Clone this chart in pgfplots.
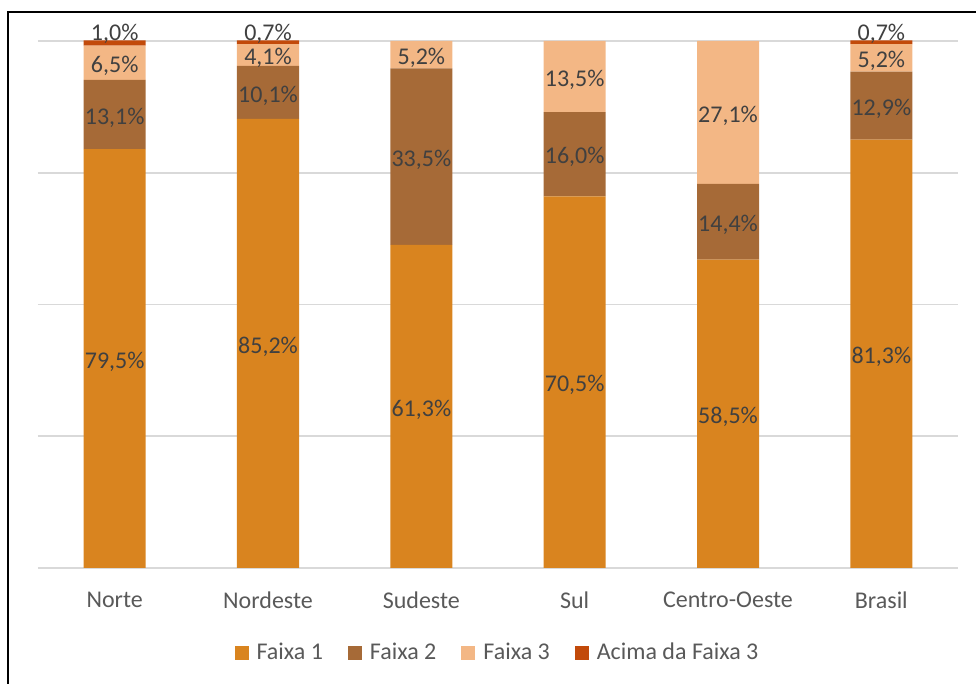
\documentclass[border=0pt]{standalone}
\usepackage{pgfplots}
\pgfplotsset{compat=1.18}
\usepackage{pgfplotstable}
\usepackage{fontspec}
\setmainfont{Carlito}
\definecolor{fx1}{HTML}{D9841F}
\definecolor{fx2}{HTML}{A66A37}
\definecolor{fx3}{HTML}{F3B785}
\definecolor{fx4}{HTML}{C24A0A}
\definecolor{lbl}{HTML}{404040}
\definecolor{tck}{HTML}{595959}
\definecolor{grd}{HTML}{D9D9D9}

\pgfplotstableread{
x f1 f2 f3 f4
0 79.5 13.1 6.5 1.0
1 85.2 10.1 4.1 0.7
2 61.3 33.5 5.2 0
3 70.5 16.0 13.5 0
4 58.5 14.4 27.1 0
5 81.3 12.9 5.2 0.7
}\data

\pgfplotsset{
  base/.style={
    width=460pt, height=263.5pt, scale only axis,
    at={(0,0)}, anchor=south west,
    xmin=-0.5, xmax=5.5, ymin=0, ymax=100,
    clip=false,
  },
  sq/.style={legend image code/.code={\fill[##1] (0pt,-3.5pt) rectangle (7pt,3.5pt);}},
  lab/.style={only marks, mark=none, point meta=explicit,
    nodes near coords={\pgfmathprintnumber[fixed,fixed zerofill,precision=1,use comma]{\pgfplotspointmeta}\%},
    every node near coord/.append style={anchor=center, yshift=-1.5pt, text=lbl, font=\fontsize{12}{14}\selectfont}},
}

\begin{document}
\begin{tikzpicture}
\useasboundingbox (-19pt,-58pt) rectangle (469pt,284pt);
\draw[line width=0.8pt] (-15pt,-70pt) -- (-15pt,278pt) -- (480pt,278pt);
\begin{axis}[base,
  ybar stacked, bar width=31pt,
  axis line style={draw=none},
  major tick length=0pt,
  xtick={0,1,2,3,4,5},
  xticklabels={Norte,Nordeste,Sudeste,Sul,Centro-Oeste,Brasil},
  xticklabel style={font=\fontsize{12}{14}\selectfont, text=tck, yshift=-8.5pt},
  ytick={0,25,50,75,100}, yticklabels={},
  ymajorgrids, grid style={grd, line width=0.8pt},
  legend style={at={(0.5,-0.161)}, anchor=center, draw=none, fill=none,
    legend columns=4, font=\fontsize{12}{14}\selectfont, text=tck,
    nodes={inner sep=1.5pt},
    /tikz/every odd column/.append style={column sep=2.5pt},
    /tikz/every even column/.append style={column sep=11pt}},
]
\addplot[fill=fx1, draw=none, sq] table[x=x, y=f1]{\data};
\addplot[fill=fx2, draw=none, sq] table[x=x, y=f2]{\data};
\addplot[fill=fx3, draw=none, sq] table[x=x, y=f3]{\data};
\addplot[fill=fx4, draw=none, sq] table[x=x, y=f4]{\data};
\legend{Faixa 1, Faixa 2, Faixa 3, Acima da Faixa 3}
\end{axis}
\begin{axis}[base, axis lines=none, xtick=\empty, ytick=\empty,
  /pgf/number format/assume math mode=true]
\addplot[lab] table[x=x, y expr=\thisrow{f1}/2, meta=f1]{\data};
\addplot[lab] table[x=x, y expr=\thisrow{f1}+\thisrow{f2}/2, meta=f2]{\data};
\addplot[lab] table[x=x, y expr=\thisrow{f1}+\thisrow{f2}+\thisrow{f3}/2, meta=f3]{\data};
\addplot[lab, every node near coord/.append style={anchor=south, yshift=-3.5pt},
  skip coords between index={2}{5}]
  table[x=x, y expr=\thisrow{f1}+\thisrow{f2}+\thisrow{f3}+\thisrow{f4}, meta=f4]{\data};
\end{axis}
\end{tikzpicture}
\end{document}
